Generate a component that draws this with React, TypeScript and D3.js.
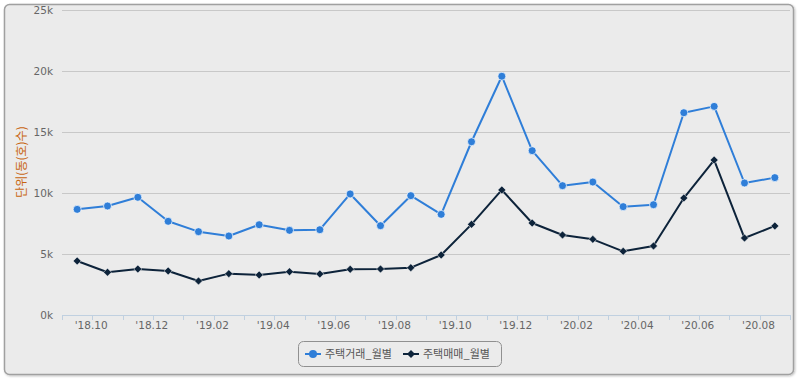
import React from "react";
import * as d3 from "d3";

const categories = [
  "'18.10", "'18.11", "'18.12", "'19.01", "'19.02", "'19.03", "'19.04", "'19.05",
  "'19.06", "'19.07", "'19.08", "'19.09", "'19.10", "'19.11", "'19.12", "'20.01",
  "'20.02", "'20.03", "'20.04", "'20.05", "'20.06", "'20.07", "'20.08", "'20.09",
];
const transactions = [
  8660, 8935, 9650, 7680, 6830, 6475, 7400, 6940, 6990, 9920, 7320, 9780,
  8250, 14200, 19570, 13470, 10600, 10900, 8880, 9040, 16580, 17100, 10820, 11260,
];
const sales = [
  4430, 3500, 3770, 3610, 2790, 3390, 3280, 3550, 3360, 3745, 3770, 3880,
  4920, 7430, 10250, 7540, 6560, 6200, 5220, 5660, 9590, 12700, 6310, 7300,
];
const yTicks = [0, 5000, 10000, 15000, 20000, 25000];
const seriesNames = ["주택거래_월별", "주택매매_월별"];
const yTitle = "단위(동(호)수)";

const W = 800, H = 381;
const left = 62, right = 790, top = 10, bottom = 315;
const font = "'DejaVu Sans', 'Noto Sans CJK KR', sans-serif";
const kfont = "'Noto Sans CJK KR', 'DejaVu Sans', sans-serif";
const blue = "#2f7ed8", dark = "#0d233a";

export default function App() {
  const x = d3.scaleBand<string>().domain(categories).range([left, right]).padding(0);
  const y = d3.scaleLinear().domain([0, 25000]).range([bottom, top]);
  const cx = (c: string) => (x(c) as number) + x.bandwidth() / 2;
  const line = d3.line<number>().x((_, i) => cx(categories[i])).y((d) => y(d));
  const boundaries = d3.range(categories.length + 1).map((i) => left + i * x.bandwidth());
  const diamond = (px: number, py: number, r: number) =>
    `M${px},${py - r}L${px + r},${py}L${px},${py + r}L${px - r},${py}Z`;

  return (
    <svg width={W} height={H} style={{ position: "absolute", left: 0, top: 0 }}>
      <defs>
        <filter id="sh" x="-5%" y="-5%" width="110%" height="115%">
          <feDropShadow dx="1" dy="1" stdDeviation="1.2" floodColor="#000" floodOpacity="0.25" />
        </filter>
      </defs>
      <rect x={0} y={0} width={W} height={H} fill="#fff" />
      <rect x={4.5} y={4.5} width={789} height={370} rx={5} fill="#ebebeb" stroke="#a0a0a0" strokeWidth={1.5} filter="url(#sh)" />
      {yTicks.filter((t) => t > 0).map((t) => (
        <line key={t} x1={left} x2={right} y1={Math.round(y(t)) + 0.5} y2={Math.round(y(t)) + 0.5} stroke="#c8c8c8" strokeWidth={1} />
      ))}
      {yTicks.map((t) => (
        <text key={"l" + t} x={53} y={y(t) + 4} textAnchor="end" fontFamily={font} fontSize={10.5} fill="#666">
          {t / 1000 + "k"}
        </text>
      ))}
      <line x1={left} x2={right} y1={bottom + 0.5} y2={bottom + 0.5} stroke="#c0d0e0" strokeWidth={1} />
      {boundaries.map((b, i) => (
        <line key={"t" + i} x1={Math.round(b) + 0.5} x2={Math.round(b) + 0.5} y1={bottom} y2={bottom + 5} stroke="#c0d0e0" strokeWidth={1} />
      ))}
      {categories.map((c, i) =>
        i % 2 === 0 ? (
          <text key={"x" + c} x={cx(c) + 14} y={bottom + 14} textAnchor="middle" fontFamily={font} fontSize={10.5} fill="#666">
            {c}
          </text>
        ) : null
      )}
      <text transform={`translate(26,162) rotate(-90)`} textAnchor="middle" fontFamily={kfont} fontSize={12} fill="#c8650f">
        {yTitle}
      </text>
      <path d={line(transactions) || ""} fill="none" stroke={blue} strokeWidth={2} strokeLinejoin="round" />
      <path d={line(sales) || ""} fill="none" stroke={dark} strokeWidth={2} strokeLinejoin="round" />
      {transactions.map((v, i) => (
        <circle key={"b" + i} cx={cx(categories[i])} cy={y(v)} r={4} fill={blue} stroke="#fff" strokeWidth={0.7} />
      ))}
      {sales.map((v, i) => (
        <path key={"d" + i} d={diamond(cx(categories[i]), y(v), 4)} fill={dark} stroke="#fff" strokeWidth={0.5} />
      ))}
      <g>
        <rect x={298.5} y={341.5} width={203} height={25} rx={5} fill="none" stroke="#909090" strokeWidth={1} />
        <line x1={305} x2={321} y1={354} y2={354} stroke={blue} strokeWidth={2} />
        <circle cx={313} cy={354} r={4} fill={blue} />
        <text x={325} y={358} fontFamily={kfont} fontSize={11} fill="#555">{seriesNames[0]}</text>
        <line x1={403} x2={419} y1={354} y2={354} stroke={dark} strokeWidth={2} />
        <path d={diamond(411, 354, 4)} fill={dark} />
        <text x={423} y={358} fontFamily={kfont} fontSize={11} fill="#555">{seriesNames[1]}</text>
      </g>
    </svg>
  );
}
